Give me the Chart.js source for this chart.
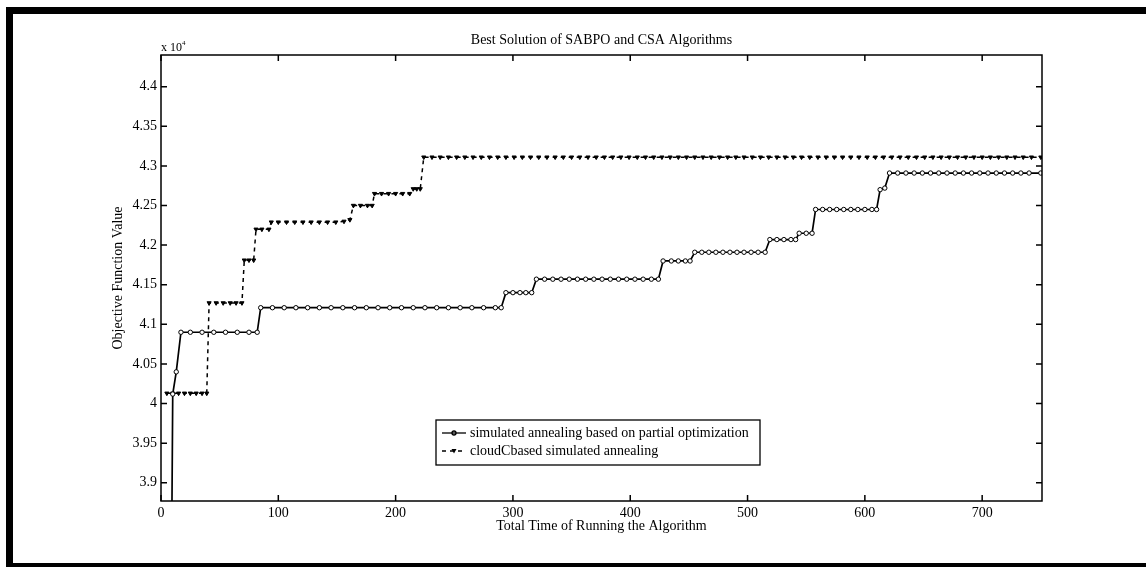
<!DOCTYPE html>
<html>
<head>
<meta charset="utf-8">
<script src="https://cdn.jsdelivr.net/npm/chart.js@4.4.0/dist/chart.umd.min.js"></script>
<style>
    body { margin: 0; background: #fff; }
    #wrap { position: relative; width: 1146px; height: 567px; overflow: hidden; }
    #cadre { position: absolute; left: 6px; top: 7px; width: 1150px; height: 549px;
             border-left: 7px solid #000; border-top: 7px solid #000; border-bottom: 6px solid #000; }
    canvas { position: absolute; left: 0; top: 0; }
</style>
</head>
<body>
<div id="wrap">
    <div id="cadre"></div>
    <canvas id="myChart" width="1146" height="567"></canvas>
</div>
<script>
// DONNEES (valeurs x 10^4)

var tempsSABPO = [9, 10, 13, 17, 25, 35, 45, 55, 65, 75, 82, 85, 95, 105, 115, 125, 135, 145, 155, 165, 175, 185, 195, 205, 215, 225, 235, 245, 255, 265, 275, 285, 290,
    294, 300, 306, 311, 316, 320, 327, 334, 341, 348, 355, 362, 369, 376, 383, 390, 397, 404, 411, 418, 424,
    428, 435, 441, 447, 451, 455, 461, 467, 473, 479, 485, 491, 497, 503, 509, 515,
    519, 525, 531, 537, 541, 544, 550, 555, 558, 564, 570, 576, 582, 588, 594, 600, 606, 610, 613, 617,
    621, 628, 635, 642, 649, 656, 663, 670, 677, 684, 691, 698, 705, 712, 719, 726, 733, 740, 750];
var valeursSABPO = [3.80, 4.012, 4.04, 4.09, 4.09, 4.09, 4.09, 4.09, 4.09, 4.09, 4.09, 4.121, 4.121, 4.121, 4.121, 4.121, 4.121, 4.121, 4.121, 4.121, 4.121, 4.121, 4.121, 4.121, 4.121, 4.121, 4.121, 4.121, 4.121, 4.121, 4.121, 4.121, 4.121,
    4.140, 4.140, 4.140, 4.140, 4.140, 4.157, 4.157, 4.157, 4.157, 4.157, 4.157, 4.157, 4.157, 4.157, 4.157, 4.157, 4.157, 4.157, 4.157, 4.157, 4.157,
    4.180, 4.180, 4.180, 4.180, 4.180, 4.191, 4.191, 4.191, 4.191, 4.191, 4.191, 4.191, 4.191, 4.191, 4.191, 4.191,
    4.207, 4.207, 4.207, 4.207, 4.207, 4.215, 4.215, 4.215, 4.245, 4.245, 4.245, 4.245, 4.245, 4.245, 4.245, 4.245, 4.245, 4.245, 4.270, 4.272,
    4.291, 4.291, 4.291, 4.291, 4.291, 4.291, 4.291, 4.291, 4.291, 4.291, 4.291, 4.291, 4.291, 4.291, 4.291, 4.291, 4.291, 4.291, 4.291];

var tempsCSA = [5, 10, 15, 20, 25, 30, 35, 39, 41, 47, 53, 59, 64, 69, 71, 75, 79, 81, 86, 92,
    94, 100, 107, 114, 121, 128, 135, 142, 149, 156, 161, 164, 170, 176, 180, 182, 188, 194, 200, 206, 212, 215, 218, 221,
    224, 231, 238, 245, 252, 259, 266, 273, 280, 287, 294, 301, 308, 315, 322, 329, 336, 343, 350, 357, 364, 371, 378, 385, 392, 399,
    406, 413, 420, 427, 434, 441, 448, 455, 462, 469, 476, 483, 490, 497, 504, 511, 518, 525, 532, 539, 546, 553, 560, 567, 574,
    581, 588, 595, 602, 609, 616, 623, 630, 637, 644, 651, 658, 665, 672, 679, 686, 693, 700, 707, 714, 721, 728, 735, 742, 750];
var valeursCSA = [4.013, 4.013, 4.013, 4.013, 4.013, 4.013, 4.013, 4.013, 4.127, 4.127, 4.127, 4.127, 4.127, 4.127, 4.181, 4.181, 4.181, 4.220, 4.220, 4.220,
    4.229, 4.229, 4.229, 4.229, 4.229, 4.229, 4.229, 4.229, 4.229, 4.230, 4.232, 4.250, 4.250, 4.250, 4.250, 4.265, 4.265, 4.265, 4.265, 4.265, 4.265, 4.271, 4.271, 4.271,
    4.311, 4.311, 4.311, 4.311, 4.311, 4.311, 4.311, 4.311, 4.311, 4.311, 4.311, 4.311, 4.311, 4.311, 4.311, 4.311, 4.311, 4.311, 4.311, 4.311, 4.311, 4.311, 4.311, 4.311, 4.311, 4.311,
    4.311, 4.311, 4.311, 4.311, 4.311, 4.311, 4.311, 4.311, 4.311, 4.311, 4.311, 4.311, 4.311, 4.311, 4.311, 4.311, 4.311, 4.311, 4.311, 4.311, 4.311, 4.311, 4.311, 4.311, 4.311,
    4.311, 4.311, 4.311, 4.311, 4.311, 4.311, 4.311, 4.311, 4.311, 4.311, 4.311, 4.311, 4.311, 4.311, 4.311, 4.311, 4.311, 4.311, 4.311, 4.311, 4.311, 4.311, 4.311, 4.311, 4.311];

var ticksX = [0, 100, 200, 300, 400, 500, 600, 700];
var ticksY = [3.9, 3.95, 4, 4.05, 4.1, 4.15, 4.2, 4.25, 4.3, 4.35, 4.4];

var nomsSeries = ["simulated annealing based on partial optimization", "cloudCbased simulated annealing"];

var police = "'Liberation Serif', 'Times New Roman', serif";

function zip(xs, ys) {
    var pts = [];
    for (var i = 0; i < xs.length; i++) {
        pts.push({ x: xs[i], y: ys[i] });
    }
    return pts;
}

// PLUGIN : CADRE, TICKS INTERIEURS, TITRE, x 10^4, LEGENDE
var habillage = {
    id: 'habillage',
    afterDraw: function(chart) {
        var ctx = chart.ctx;
        var a = chart.chartArea;
        var sx = chart.scales.x;
        var sy = chart.scales.y;
        ctx.save();
        ctx.strokeStyle = '#000';
        ctx.lineWidth = 1.5;
        ctx.strokeRect(a.left, a.top, a.right - a.left, a.bottom - a.top);

        ctx.beginPath();
        ticksX.forEach(function(v) {
            var px = sx.getPixelForValue(v);
            ctx.moveTo(px, a.bottom); ctx.lineTo(px, a.bottom - 6);
            ctx.moveTo(px, a.top); ctx.lineTo(px, a.top + 6);
        });
        ticksY.forEach(function(v) {
            var py = sy.getPixelForValue(v);
            ctx.moveTo(a.left, py); ctx.lineTo(a.left + 6, py);
            ctx.moveTo(a.right, py); ctx.lineTo(a.right - 6, py);
        });
        ctx.stroke();

        ctx.fillStyle = '#000';
        ctx.font = "14px " + police;
        ctx.textAlign = 'center';
        ctx.textBaseline = 'middle';
        ctx.fillText("Best Solution of SABPO and CSA Algorithms", (a.left + a.right) / 2, 40);

        ctx.textAlign = 'left';
        ctx.font = "12px " + police;
        ctx.fillText("x 10", a.left, 48);
        ctx.font = "7px " + police;
        ctx.fillText("4", a.left + 21, 43);

        // LEGENDE
        var lx = 436, ly = 420, lw = 324, lh = 45;
        ctx.fillStyle = '#fff';
        ctx.fillRect(lx, ly, lw, lh);
        ctx.lineWidth = 1.3;
        ctx.strokeRect(lx, ly, lw, lh);
        ctx.fillStyle = '#000';
        ctx.font = "14px " + police;
        ctx.textAlign = 'left';

        var y1 = ly + 13, y2 = ly + 31;
        ctx.beginPath();
        ctx.moveTo(lx + 6, y1); ctx.lineTo(lx + 30, y1);
        ctx.stroke();
        ctx.beginPath();
        ctx.arc(lx + 18, y1, 2, 0, Math.PI * 2);
        ctx.stroke();
        ctx.fillText(nomsSeries[0], lx + 34, y1);

        ctx.setLineDash([4, 4]);
        ctx.beginPath();
        ctx.moveTo(lx + 6, y2); ctx.lineTo(lx + 30, y2);
        ctx.stroke();
        ctx.setLineDash([]);
        ctx.beginPath();
        ctx.moveTo(lx + 15.5, y2 - 2); ctx.lineTo(lx + 20.5, y2 - 2); ctx.lineTo(lx + 18, y2 + 2.5);
        ctx.closePath();
        ctx.fill();
        ctx.fillText(nomsSeries[1], lx + 34, y2);
        ctx.restore();
    }
};

new Chart(document.getElementById("myChart"), {
    type: 'line',
    data: {
        datasets: [{
            label: nomsSeries[0],
            data: zip(tempsSABPO, valeursSABPO),
            borderColor: '#000',
            borderWidth: 1.7,
            pointStyle: 'circle',
            pointRadius: 2.2,
            pointBorderWidth: 1,
            pointBorderColor: '#000',
            pointBackgroundColor: '#fff',
            tension: 0
        }, {
            label: nomsSeries[1],
            data: zip(tempsCSA, valeursCSA),
            borderColor: '#000',
            borderWidth: 1.5,
            borderDash: [4, 4],
            pointStyle: 'triangle',
            rotation: 180,
            pointRadius: 2.4,
            pointBorderWidth: 1,
            pointBorderColor: '#000',
            pointBackgroundColor: '#000',
            tension: 0
        }]
    },
    options: {
        responsive: false,
        animation: false,
        layout: { padding: { left: 100, top: 55, right: 104, bottom: 26 } },
        plugins: {
            legend: { display: false },
            title: { display: false },
            tooltip: { enabled: false }
        },
        scales: {
            x: {
                type: 'linear',
                min: 0,
                max: 751,
                afterBuildTicks: function(s) { s.ticks = ticksX.map(function(v) { return { value: v }; }); },
                afterFit: function(s) { s.height = 40; },
                grid: { display: false, drawTicks: false },
                border: { display: false },
                ticks: { color: '#000', font: { family: police, size: 14 }, padding: 4, maxRotation: 0 },
                title: { display: true, text: "Total Time of Running the Algorithm", color: '#000',
                         font: { family: police, size: 14 }, padding: { top: 0, bottom: 6.6 } }
            },
            y: {
                type: 'linear',
                min: 3.877,
                max: 4.44,
                afterBuildTicks: function(s) { s.ticks = ticksY.map(function(v) { return { value: v }; }); },
                afterFit: function(s) { s.width = 61; },
                grid: { display: false, drawTicks: false },
                border: { display: false },
                ticks: { color: '#000', font: { family: police, size: 14 }, padding: 4,
                         callback: function(v) { return String(Math.round(v * 100) / 100); } },
                title: { display: true, text: "Objective Function Value", color: '#000',
                         font: { family: police, size: 14 }, padding: { top: 9.6, bottom: 0 } }
            }
        }
    },
    plugins: [habillage]
});
</script>
</body>
</html>
